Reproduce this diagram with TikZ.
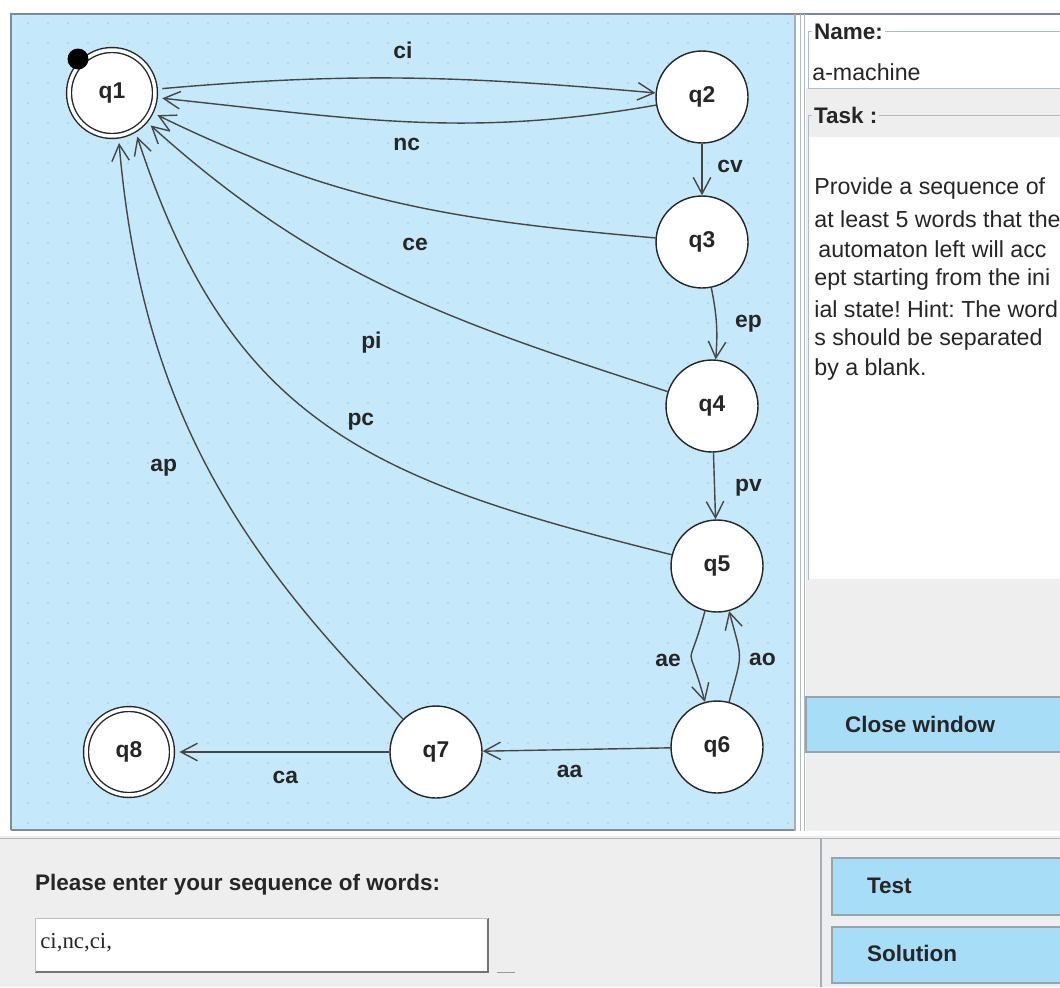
\documentclass[tikz,border=0pt]{standalone}
\usepackage{fontspec}
\setmainfont{Liberation Sans}
\newfontfamily\inputfont{Liberation Serif}
\usepackage{tikz}
\usetikzlibrary{arrows.meta}
\definecolor{canvasblue}{RGB}{197,233,251}
\definecolor{dotblue}{RGB}{160,196,218}
\definecolor{panelgray}{RGB}{238,238,238}
\definecolor{buttonblue}{RGB}{168,221,247}
\definecolor{framegray}{RGB}{126,140,154}
\definecolor{linegray}{RGB}{172,190,206}
\definecolor{edgegray}{RGB}{70,70,70}
\frenchspacing

\begin{document}
\begin{tikzpicture}[x=0.02cm, y=0.02cm,
      every node/.style={font=\fontsize{13}{15}\selectfont\bfseries, text=black!85},
      state/.style={circle, draw=black!85, fill=white, line width=0.8pt,
                    minimum size=1.84cm, inner sep=0pt},
      accept/.style={state, minimum size=1.72cm, double=white,
                     double distance=0.07cm, outer sep=0.15cm},
      arr/.style={-{Straight Barb[length=3.3mm, width=3.5mm]}, edgegray, line width=0.8pt},
      button/.style={draw=framegray!80, fill=buttonblue, line width=0.6pt},
      panel/.style={font=\fontsize{12.8}{15}\selectfont\bfseries, anchor=west, inner sep=1pt},
      plain/.style={font=\fontsize{13.2}{16}\selectfont, anchor=west, inner sep=0pt}]
  \useasboundingbox (0,0) rectangle (1060,-987);
  \fill[white] (0,0) rectangle (1060,-987);
  \fill[canvasblue] (11,-14) rectangle (795,-830);
  \foreach \gx in {28,48,...,788}
    \foreach \gy in {23,43,...,823}
      \fill[dotblue] (\gx,-\gy) circle (0.45pt);
  \draw[framegray, line width=1.6pt] (11,-830) -- (11,-14) -- (1060,-14);
  \draw[framegray, line width=1.2pt] (11,-830) -- (795,-830);

  \fill[panelgray] (806,-15) rectangle (1060,-831);
  \draw[framegray!70, line width=1pt] (795,-14) -- (795,-831);
  \draw[framegray!60] (800,-14) -- (800,-831) (804,-14) -- (804,-831);
  \fill[white] (806,-15) rectangle (1060,-88);
  \draw[linegray] (1060,-88) -| (808,-31) -- (1060,-31);
  \node[panel, fill=white] (name) at (812,-32) {Name:};
  \node[plain] (machine) at (812,-72) {a-machine};
  \draw[linegray] (808,-580) |- (1060,-115);
  \node[panel, fill=panelgray] (task) at (812,-115) {Task :};
  \fill[white] (809,-137) rectangle (1060,-579);
  \node[plain] (l1) at (814,-189) {Provide a sequence of};
  \node[plain] (l2) at (814,-219) {at least 5 words that the};
  \node[plain] (l3) at (818,-249) {automaton left will acc};
  \node[plain] (l4) at (814,-279) {ept starting from the ini};
  \node[plain] (l5) at (814,-309) {ial state! Hint: The word};
  \node[plain] (l6) at (814,-339) {s should be separated};
  \node[plain] (l7) at (814,-369) {by a blank.};
  \draw[button] (806,-697) rectangle (1062,-752);
  \node[panel] (close) at (843,-724) {Close window};

  \fill[panelgray] (0,-835) rectangle (1060,-987);
  \draw[white, line width=2pt] (0,-834) -- (1060,-834);
  \draw[framegray!60] (0,-838) -- (1060,-838);
  \draw[framegray!70, line width=0.8pt] (821,-838) -- (821,-987);
  \node[panel] (prompt) at (33,-885) {Please enter your sequence of words:};
  \fill[white] (35,-918) rectangle (488,-972);
  \draw[black!55, line width=1pt] (35,-972) -- (488,-972) -- (488,-918);
  \draw[black!25] (35,-972) |- (488,-918);
  \node[anchor=west, inner sep=0pt, font=\inputfont\fontsize{13}{15}\selectfont] (word) at (40,-943) {ci,nc,ci,};
  \draw[black!40] (497,-972) -- (515,-972);
  \draw[button] (832,-858) rectangle (1062,-915);
  \node[panel] (test) at (865,-886) {Test};
  \draw[button] (832,-927) rectangle (1062,-983);
  \node[panel] (solution) at (865,-953) {Solution};

  \node[accept] (q1) at (112,-93) {q1};
  \node[state] (q2) at (702,-97) {q2};
  \node[state] (q3) at (702,-242) {q3};
  \node[state] (q4) at (712,-406) {q4};
  \node[state] (q5) at (717,-566) {q5};
  \node[state] (q6) at (717,-747) {q6};
  \node[state] (q7) at (436,-752) {q7};
  \node[accept] (q8) at (129,-752) {q8};
  \node[circle, fill=black, minimum size=0.42cm, inner sep=0pt] (init) at (78,-59) {};

  \draw[arr] (q1) to[out=5, in=175] node[shift={(-6,28)}] {ci} (q2);
  \draw[arr] (q2) to[out=190, in=-6] node[shift={(-3,-23)}] {nc} (q1);
  \draw[arr] (q2) -- node[shift={(28,3)}] {cv} (q3);
  \draw[arr] (q3) to[out=175, in=-26] node[shift={(16,-42)}] {ce} (q1);
  \draw[arr] (q3) to[bend left=8] node[shift={(32,0)}] {ep} (q4);
  \draw[arr] (q4) to[out=162, in=-42] node[shift={(-20,-53)}] {pi} (q1.-40);
  \draw[arr] (q4) -- node[shift={(34,-2)}] {pv} (q5);
  \draw[arr] (q5) to[out=166, in=-72, looseness=1.15] node[shift={(32,5)}] {pc} (q1.-60);
  \draw[arr] (q5) to[out=255, in=105, looseness=2] node[shift={(-23,-4)}] {ae} (q6);
  \draw[arr] (q6) to[out=75, in=-75, looseness=1.5] node[shift={(23,-3)}] {ao} (q5);
  \draw[arr] (q6) -- node[shift={(-7,-22)}] {aa} (q7);
  \draw[arr] (q7) to[out=135, in=-85] node[shift={(-39,-10)}] {ap} (q1.-82);
  \draw[arr] (q7) -- node[shift={(1,-25)}] {ca} (q8);
\end{tikzpicture}
\end{document}
